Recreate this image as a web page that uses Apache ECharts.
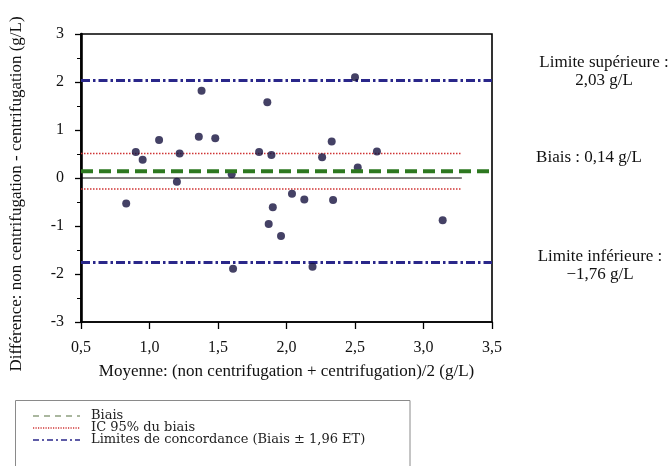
<!DOCTYPE html>
<html>
<head>
<meta charset="utf-8">
<script src="https://cdn.jsdelivr.net/npm/echarts@6/dist/echarts.min.js"></script>
<style>
  html, body { margin: 0; padding: 0; background: #fff; }
  #chart { width: 671px; height: 466px; }
</style>
</head>
<body>
<div id="chart"></div>
<script>
// Bland-Altman: mean of the two methods vs. their difference (g/L)
const meanValues = [0.83, 0.90, 0.95, 1.07, 1.20, 1.22, 1.36, 1.38, 1.48, 1.60, 1.61,
                    1.80, 1.86, 1.87, 1.89, 1.90, 1.96, 2.04, 2.13, 2.19, 2.26, 2.33,
                    2.34, 2.50, 2.52, 2.66, 3.14];
const diffValues = [-0.53, 0.54, 0.38, 0.79, -0.08, 0.51, 0.86, 1.82, 0.83, 0.08, -1.89,
                    0.54, 1.58, -0.96, 0.48, -0.61, -1.21, -0.33, -0.45, -1.85, 0.43, 0.76,
                    -0.46, 2.10, 0.22, 0.55, -0.88];

const biasValue = 0.14;
const biasCI = [0.51, -0.23];
const upperLimit = 2.03;
const lowerLimit = -1.76;
const xRange = [0.5, 3.5];
const shortLineEnd = 3.28;

const xTitle = 'Moyenne: (non centrifugation + centrifugation)/2 (g/L)';
const yTitle = 'Diff\u00e9rence: non centrifugation - centrifugation (g/L)';
const legendLabels = ['Biais', 'IC 95% du biais', 'Limites de concordance (Biais \u00b1 1,96 ET)'];
const upperText = ['Limite sup\u00e9rieure :', '2,03 g/L'];
const biasText = ['Biais : 0,14 g/L'];
const lowerText = ['Limite inf\u00e9rieure :', '\u22121,76 g/L'];

const serif = '"Liberation Serif", "Times New Roman", serif';
const legendFont = '"DejaVu Serif", serif';
const blue = '#2a278a';
const green = '#2d7820';
const red = '#cf3434';
const dotColor = '#15113f';

const hLine = (y, x0, x1, style, z) => ({
  type: 'line',
  data: [[x0, y], [x1, y]],
  symbol: 'none',
  silent: true,
  z: z,
  lineStyle: style
});

const chart = echarts.init(document.getElementById('chart'), null, { renderer: 'canvas' });

// centred multi-line annotation to the right of the plot
const textBlock = (lines, cx, y, size) => lines.map((t, i) => ({
  type: 'text',
  x: cx,
  y: y + i * 17.5,
  style: { text: t, fill: '#111', font: size + 'px ' + serif, align: 'center', verticalAlign: 'middle' }
}));

const legendRows = [
  { color: '#8ea080', dash: [6, 5], width: 1.3 },
  { color: red, dash: [1.2, 1.3], width: 1.3 },
  { color: blue, dash: [6, 3, 2, 3], width: 1.6 }
];

const legendGraphics = [{
  type: 'polyline',
  shape: { points: [[15.5, 480], [15.5, 400.5], [410, 400.5], [410, 480]] },
  style: { fill: 'none', stroke: '#8a8a8a', lineWidth: 1 }
}];
legendRows.forEach((r, i) => {
  const y = 416 + i * 12;
  legendGraphics.push({
    type: 'line',
    shape: { x1: 33, y1: y, x2: 80, y2: y },
    style: { stroke: r.color, lineWidth: r.width, lineDash: r.dash }
  });
  legendGraphics.push({
    type: 'text',
    x: 91,
    y: y,
    style: { text: legendLabels[i], fill: '#222', font: '13px ' + legendFont, verticalAlign: 'middle' }
  });
});

chart.setOption({
  animation: false,
  backgroundColor: '#fff',
  grid: {
    left: 81, top: 34, right: 179, bottom: 144,
    show: true, borderColor: '#000', borderWidth: 1.6, backgroundColor: 'transparent'
  },
  xAxis: {
    type: 'value',
    min: xRange[0], max: xRange[1], interval: 0.5,
    name: xTitle,
    nameLocation: 'middle', nameGap: 41,
    nameTextStyle: { fontFamily: serif, fontSize: 17, color: '#111' },
    axisLine: { onZero: false, lineStyle: { color: '#000', width: 1.6 } },
    axisTick: { show: true, length: 7, lineStyle: { color: '#000', width: 1.3 } },
    axisLabel: {
      margin: 18, fontFamily: serif, fontSize: 16, color: '#111',
      formatter: v => v.toFixed(1).replace('.', ',')
    },
    splitLine: { show: false }
  },
  yAxis: {
    type: 'value',
    min: -3, max: 3, interval: 1,
    axisLine: { onZero: false, lineStyle: { color: '#000', width: 2.6 } },
    axisTick: { show: true, length: 6, lineStyle: { color: '#000', width: 1.3 } },
    minorTick: { show: true, splitNumber: 2, length: 4, lineStyle: { color: '#000', width: 1 } },
    axisLabel: { margin: 17, fontFamily: serif, fontSize: 16, color: '#111', formatter: v => String(v) },
    splitLine: { show: false }
  },
  graphic: [
    {
      type: 'text',
      x: 17, y: 194, rotation: Math.PI / 2,
      style: { text: yTitle, fill: '#111', font: '17px ' + serif, align: 'center', verticalAlign: 'middle' }
    },
    ...textBlock(upperText, 604, 63, 17),
    ...textBlock(biasText, 589, 158, 17),
    ...textBlock(lowerText, 600, 257, 17),
    ...legendGraphics
  ],
  series: [
    hLine(0, xRange[0], shortLineEnd, { color: '#000', width: 1, type: 'solid' }, 1),
    hLine(biasCI[0], xRange[0], shortLineEnd, { color: red, width: 1.5, type: [1.5, 1.5] }, 2),
    hLine(biasCI[1], xRange[0], shortLineEnd, { color: red, width: 1.5, type: [1.5, 1.5] }, 2),
    hLine(upperLimit, xRange[0], xRange[1], { color: blue, width: 3, type: [9, 3, 2.5, 3] }, 2),
    hLine(lowerLimit, xRange[0], xRange[1], { color: blue, width: 3, type: [9, 3, 2.5, 3] }, 2),
    {
      type: 'scatter',
      data: meanValues.map((m, i) => [m, diffValues[i]]),
      symbol: 'circle',
      symbolSize: 8,
      z: 3,
      itemStyle: { color: dotColor }
    },
    hLine(biasValue, xRange[0], xRange[1], { color: green, width: 4, type: [12, 6] }, 4)
  ]
});
</script>
</body>
</html>
